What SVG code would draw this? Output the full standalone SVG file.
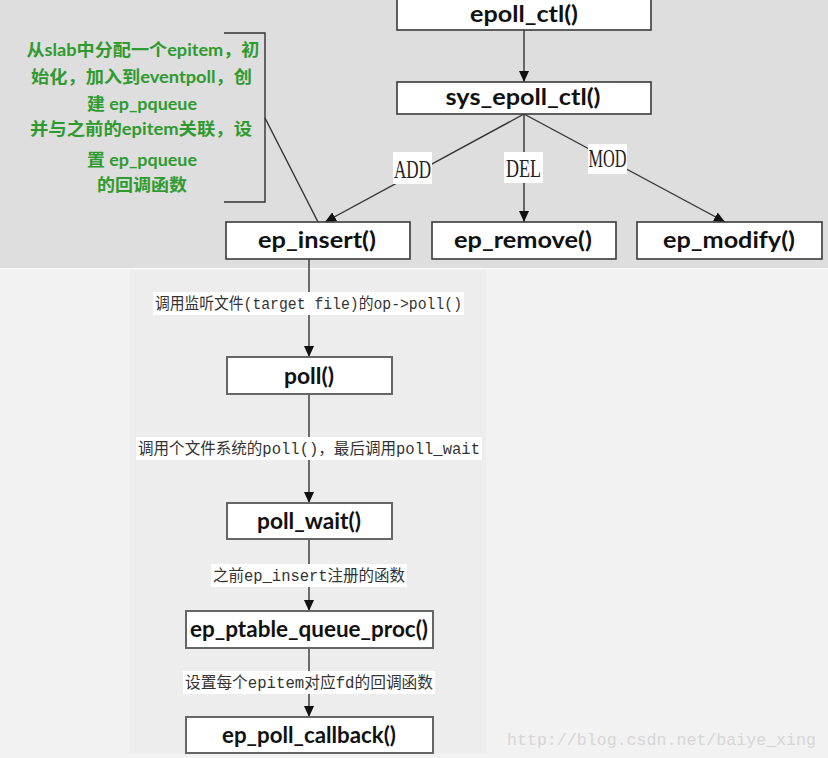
<svg xmlns="http://www.w3.org/2000/svg" width="828" height="758" viewBox="0 0 828 758">
<defs>
<marker id="arr" markerUnits="userSpaceOnUse" markerWidth="12" markerHeight="12" refX="11" refY="6" orient="auto">
<path d="M0,1 L11,6 L0,11 Z" fill="#111"/>
</marker>
<style>
.box{fill:#fff;stroke:#3a3a3a;stroke-width:1.6}
.box2{fill:#fff;stroke:#666;stroke-width:2}
.nt{font-family:Lato,"Liberation Sans",sans-serif;font-weight:bold;font-size:22px;fill:#111;text-anchor:middle}
.ln{stroke:#333;stroke-width:1.4;fill:none}
.lb{font-family:"Liberation Serif",serif;font-size:26px;fill:#222;text-anchor:middle}
.gr{font-family:Lato,"Noto Sans CJK SC",sans-serif;font-weight:bold;font-size:17px;fill:#2f9a2f;text-anchor:middle}
.cl{font-family:"Liberation Mono","Noto Sans CJK SC",monospace;font-size:16px;fill:#333;text-anchor:middle}
.wb{fill:#fff}
</style>
</defs>
<rect x="0" y="0" width="828" height="268" fill="#dedede"/>
<rect x="0" y="268" width="828" height="490" fill="#f2f2f2"/>
<rect x="0" y="268" width="828" height="1.5" fill="#f8f8f8"/>
<rect x="130" y="270" width="356" height="483" fill="#ededed"/>

<g id="connectors">
<line class="ln" x1="524" y1="30" x2="524" y2="82" marker-end="url(#arr)"/>
<line class="ln" x1="524" y1="114" x2="325" y2="222" marker-end="url(#arr)"/>
<line class="ln" x1="524" y1="114" x2="524" y2="222" marker-end="url(#arr)"/>
<line class="ln" x1="524" y1="114" x2="725" y2="222" marker-end="url(#arr)"/>
<polyline class="ln" points="224,33 265,33 265,202 224,202"/>
<line class="ln" x1="265" y1="118" x2="318" y2="222"/>
<line class="ln" x1="309" y1="259" x2="309" y2="357" marker-end="url(#arr)"/>
<line class="ln" x1="309" y1="394" x2="309" y2="503" marker-end="url(#arr)"/>
<line class="ln" x1="309" y1="539" x2="309" y2="611" marker-end="url(#arr)"/>
<line class="ln" x1="309" y1="648" x2="309" y2="717" marker-end="url(#arr)"/>
<rect class="wb" x="393" y="152" width="39" height="32"/>
<text class="lb" x="412.5" y="178" textLength="37" lengthAdjust="spacingAndGlyphs">ADD</text>
<rect class="wb" x="504" y="152" width="39" height="31"/>
<text class="lb" x="523.5" y="177" textLength="35" lengthAdjust="spacingAndGlyphs">DEL</text>
<rect class="wb" x="588" y="144" width="39" height="30"/>
<text class="lb" x="607.5" y="167" textLength="38" lengthAdjust="spacingAndGlyphs">MOD</text>
<rect class="wb" x="153" y="292" width="311" height="23"/>
<text class="cl" x="308.5" y="309" textLength="307" lengthAdjust="spacingAndGlyphs">调用监听文件(target file)的op-&gt;poll()</text>
<rect class="wb" x="136" y="437" width="346" height="23"/>
<text class="cl" x="309" y="454" textLength="342" lengthAdjust="spacingAndGlyphs">调用个文件系统的poll()，最后调用poll_wait</text>
<rect class="wb" x="211" y="564" width="196" height="23"/>
<text class="cl" x="309" y="581" textLength="192" lengthAdjust="spacingAndGlyphs">之前ep_insert注册的函数</text>
<rect class="wb" x="183" y="671" width="252" height="23"/>
<text class="cl" x="309" y="688" textLength="248" lengthAdjust="spacingAndGlyphs">设置每个epitem对应fd的回调函数</text>
</g>

<g id="note">
<text class="gr" x="143" y="56" textLength="233" lengthAdjust="spacingAndGlyphs">从slab中分配一个epitem，初</text>
<text class="gr" x="141.5" y="83" textLength="221" lengthAdjust="spacingAndGlyphs">始化，加入到eventpoll，创</text>
<text class="gr" x="142" y="110" textLength="110" lengthAdjust="spacingAndGlyphs">建 ep_pqueue</text>
<text class="gr" x="141" y="135" textLength="222" lengthAdjust="spacingAndGlyphs">并与之前的epitem关联，设</text>
<text class="gr" x="142" y="166" textLength="110" lengthAdjust="spacingAndGlyphs">置 ep_pqueue</text>
<text class="gr" x="142" y="191" textLength="90" lengthAdjust="spacingAndGlyphs">的回调函数</text>
</g>

<g id="epoll_ctl"><rect class="box" x="397" y="-2" width="254" height="32"/><text class="nt" x="524" y="22" textLength="108" lengthAdjust="spacingAndGlyphs">epoll_ctl()</text></g>
<g id="sys_epoll_ctl"><rect class="box" x="397" y="82" width="254" height="32"/><text class="nt" x="523" y="105" textLength="155" lengthAdjust="spacingAndGlyphs">sys_epoll_ctl()</text></g>
<g id="ep_insert"><rect class="box" x="226" y="222" width="184" height="37"/><text class="nt" x="317" y="248" textLength="118" lengthAdjust="spacingAndGlyphs">ep_insert()</text></g>
<g id="ep_remove"><rect class="box" x="432" y="222" width="184" height="37"/><text class="nt" x="523" y="248" textLength="138" lengthAdjust="spacingAndGlyphs">ep_remove()</text></g>
<g id="ep_modify"><rect class="box" x="637" y="222" width="185" height="37"/><text class="nt" x="729" y="248" textLength="132" lengthAdjust="spacingAndGlyphs">ep_modify()</text></g>
<g id="poll"><rect class="box2" x="227" y="357" width="165" height="37"/><text class="nt" x="309" y="384" textLength="50" lengthAdjust="spacingAndGlyphs">poll()</text></g>
<g id="poll_wait"><rect class="box2" x="227" y="503" width="165" height="36"/><text class="nt" x="309" y="529" textLength="104" lengthAdjust="spacingAndGlyphs">poll_wait()</text></g>
<g id="ep_ptable_queue_proc"><rect class="box2" x="186" y="611" width="247" height="37"/><text class="nt" x="309" y="637" textLength="238" lengthAdjust="spacingAndGlyphs">ep_ptable_queue_proc()</text></g>
<g id="ep_poll_callback"><rect class="box2" x="186" y="717" width="247" height="36"/><text class="nt" x="309" y="743" textLength="174" lengthAdjust="spacingAndGlyphs">ep_poll_callback()</text></g>

<text x="507" y="745" font-family="Liberation Mono,monospace" font-size="17" fill="#d6d6d6" textLength="309" lengthAdjust="spacingAndGlyphs">http://blog.csdn.net/baiye_xing</text>
</svg>
